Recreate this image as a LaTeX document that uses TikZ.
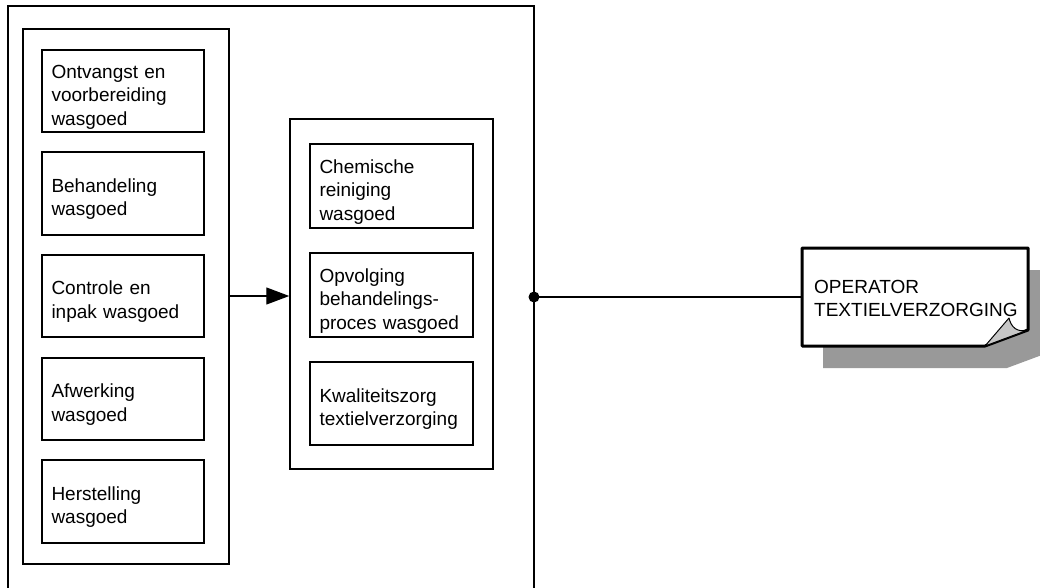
\documentclass[tikz,border=0pt]{standalone}
\usepackage{fontspec}
\setmainfont{Liberation Sans}
\usetikzlibrary{arrows.meta}
\begin{document}
\begin{tikzpicture}[x=1pt,y=-1pt,
  frame/.style={draw=black, line width=1.5pt},
  taskbox/.style={draw=black, line width=1.5pt, rectangle, inner xsep=9pt, inner ysep=0pt,
    align=left, anchor=center, font=\fontsize{19}{23.5}\selectfont,
    execute at begin node={\rule{0pt}{25pt}}},
  container/.style={draw=black, line width=1.5pt, rectangle, inner sep=0pt},
  conn/.style={draw=black, line width=1.3pt},
  bigarrow/.style={conn, -{Triangle[length=23pt,width=17pt]}},
  optext/.style={align=left, inner sep=0pt, anchor=west, font=\fontsize{19}{23}\selectfont},
]
\useasboundingbox (0,0) rectangle (1040,588);

% outer frame (open at the bottom)
\draw[frame] (8,590) -- (8,6) -- (534,6) -- (534,590);
\coordinate (dot) at (534,297);

% left column
\node[container, minimum width=206pt, minimum height=535pt] (col1) at (126,296.5) {};
\node[taskbox, minimum width=162pt, minimum height=82pt, text width=143pt] (l1) at (123,91) {Ontvangst en\\voorbereiding\\wasgoed};
\node[taskbox, minimum width=162pt, minimum height=83pt, text width=143pt] (l2) at (123,193.5) {Behandeling\\wasgoed};
\node[taskbox, minimum width=162pt, minimum height=82pt, text width=143pt] (l3) at (123,296) {Controle en\\inpak wasgoed};
\node[taskbox, minimum width=162pt, minimum height=82pt, text width=143pt] (l4) at (123,399) {Afwerking\\wasgoed};
\node[taskbox, minimum width=162pt, minimum height=83pt, text width=143pt] (l5) at (123,501.5) {Herstelling\\wasgoed};

% middle column
\node[container, minimum width=203pt, minimum height=350pt] (col2) at (391.5,294) {};
\node[taskbox, minimum width=163pt, minimum height=84pt, text width=144pt] (m1) at (391.5,186) {Chemische\\reiniging\\wasgoed};
\node[taskbox, minimum width=163pt, minimum height=84pt, text width=144pt] (m2) at (391.5,295) {Opvolging\\behandelings-\\proces wasgoed};
\node[taskbox, minimum width=163pt, minimum height=83pt, text width=144pt] (m3) at (391.5,403.5) {Kwaliteitszorg\\textielverzorging};

\draw[bigarrow] (col1.east |- 0,296) -- (col2.west |- 0,296);

% operator document shape
\fill[black!40] (823,270) -- (1050,270) -- (1050,352) -- (1007,368) -- (823,368) -- cycle;
\draw[line width=3pt, fill=white, line join=round] (802,248) -- (1028,248) -- (1028,330) -- (985,346) -- (802,346) -- cycle;
\filldraw[fill=black!22, draw=black, line width=1pt, line join=round]
  (985,346) -- (1009,318) .. controls (1011,327) and (1017,333) .. (1028,330) -- cycle;
\node[optext] (op) at (814,298) {OPERATOR\\TEXTIELVERZORGING};
\coordinate (opwest) at (802,297);

\draw[conn] (dot) -- (opwest);
\fill (dot) circle (5.5pt);
\end{tikzpicture}
\end{document}
